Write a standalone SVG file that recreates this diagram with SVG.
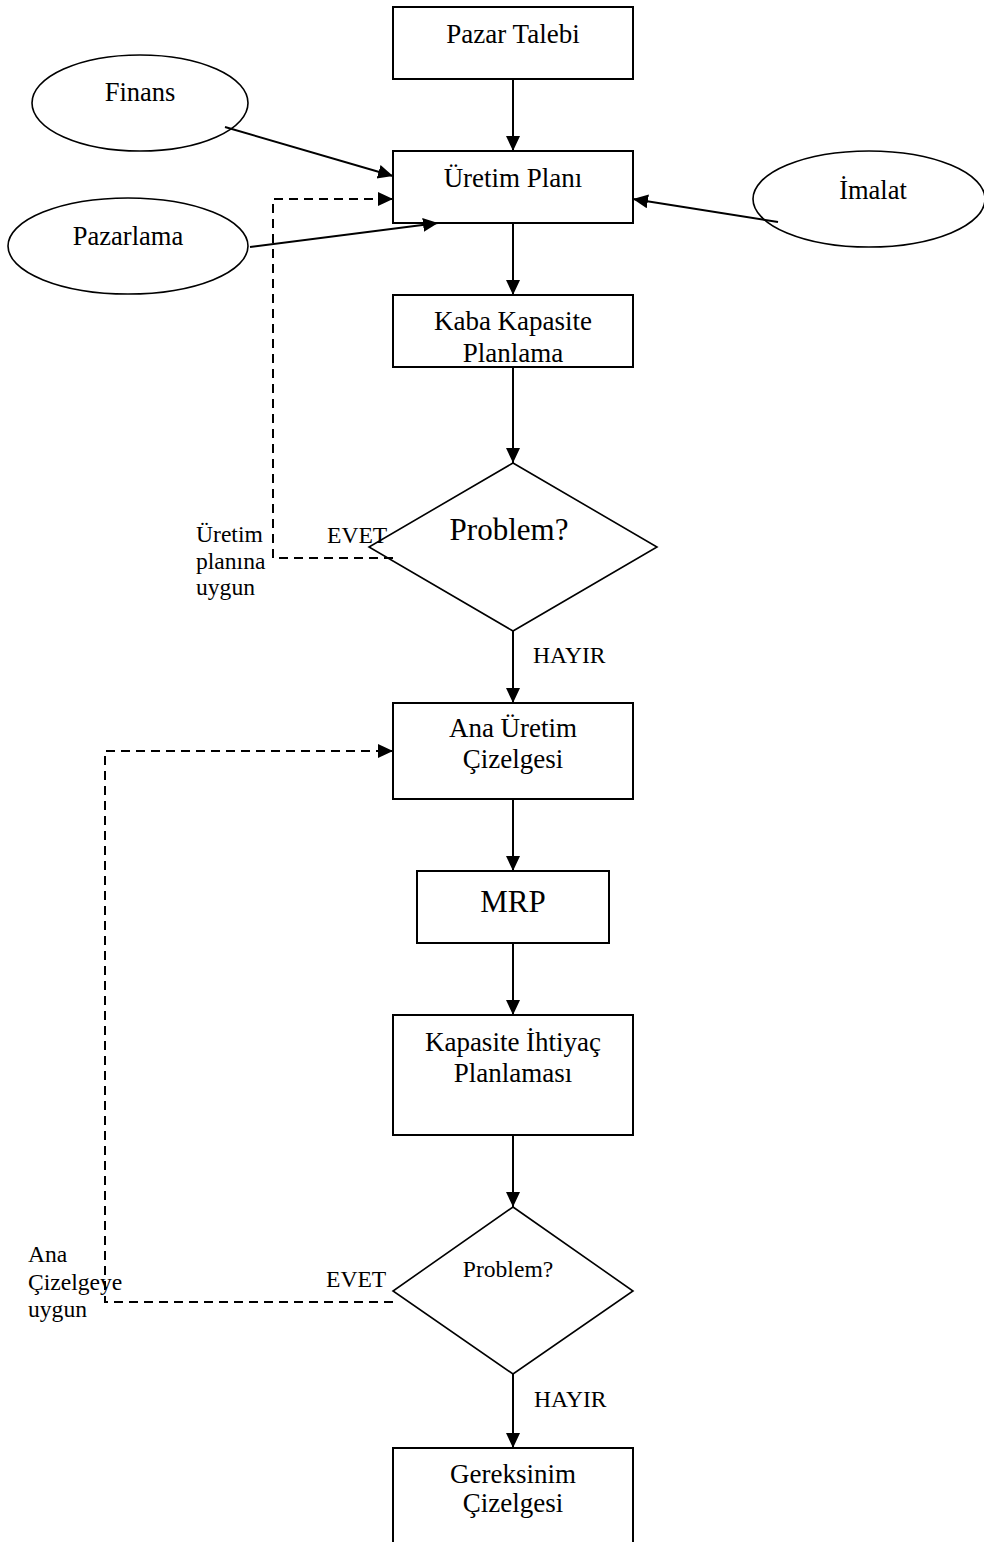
<svg xmlns="http://www.w3.org/2000/svg" width="984" height="1542" viewBox="0 0 984 1542">
  <style>
    .box { fill: #fff; stroke: #000; stroke-width: 2; }
    .oval { fill: #fff; stroke: #000; stroke-width: 1.6; }
    .dia { fill: #fff; stroke: #000; stroke-width: 1.6; }
    .lbl { font-family: "Liberation Serif", "Times New Roman", serif; fill: #000; }
    .t27 { font-size: 27px; text-anchor: middle; }
    .t26 { font-size: 26.5px; text-anchor: middle; }
    .t31 { font-size: 31px; text-anchor: middle; }
    .t24 { font-size: 23.6px; }
    .flow { fill: none; stroke: #000; stroke-width: 2; marker-end: url(#arrow); }
    .feed { fill: none; stroke: #000; stroke-width: 2; stroke-dasharray: 9 6; }
  </style>
  <defs>
    <marker id="arrow" markerUnits="userSpaceOnUse" markerWidth="16" markerHeight="15" refX="15" refY="7" orient="auto">
      <path d="M0,0 L15,7 L0,14 z" fill="#000"/>
    </marker>
  </defs>
  <rect width="984" height="1542" fill="#fff"/>

  <g id="pazar-talebi">
    <rect class="box" x="393" y="7" width="240" height="72"/>
    <text class="lbl t27" x="513" y="43">Pazar Talebi</text>
  </g>

  <g id="finans">
    <ellipse class="oval" cx="140" cy="103" rx="108" ry="48"/>
    <text class="lbl t26" x="140" y="101">Finans</text>
  </g>

  <g id="pazarlama">
    <ellipse class="oval" cx="128" cy="246" rx="120" ry="48"/>
    <text class="lbl t26" x="128" y="245">Pazarlama</text>
  </g>

  <g id="imalat">
    <ellipse class="oval" cx="869" cy="199" rx="116" ry="48"/>
    <text class="lbl t26" x="873" y="199">İmalat</text>
  </g>

  <g id="uretim-plani">
    <rect class="box" x="393" y="151" width="240" height="72"/>
    <text class="lbl t27" x="513" y="187">Üretim Planı</text>
  </g>

  <g id="kaba-kapasite">
    <rect class="box" x="393" y="295" width="240" height="72"/>
    <text class="lbl t27" x="513" y="330">Kaba Kapasite</text>
    <text class="lbl t27" x="513" y="362">Planlama</text>
  </g>

  <g id="problem-1">
    <polygon class="dia" points="513,463 657,547 513,631 369,547"/>
    <text class="lbl t31" x="509" y="540">Problem?</text>
  </g>

  <g id="ana-uretim">
    <rect class="box" x="393" y="703" width="240" height="96"/>
    <text class="lbl t27" x="513" y="737">Ana Üretim</text>
    <text class="lbl t27" x="513" y="768">Çizelgesi</text>
  </g>

  <g id="mrp">
    <rect class="box" x="417" y="871" width="192" height="72"/>
    <text class="lbl t31" x="513" y="912">MRP</text>
  </g>

  <g id="kapasite-ihtiyac">
    <rect class="box" x="393" y="1015" width="240" height="120"/>
    <text class="lbl t27" x="513" y="1051">Kapasite İhtiyaç</text>
    <text class="lbl t27" x="513" y="1082">Planlaması</text>
  </g>

  <g id="problem-2">
    <polygon class="dia" points="513,1207 633,1291 513,1374 393,1291"/>
    <text class="lbl t24" x="508" y="1277" text-anchor="middle">Problem?</text>
  </g>

  <g id="gereksinim">
    <rect class="box" x="393" y="1448" width="240" height="110"/>
    <text class="lbl t27" x="513" y="1483">Gereksinim</text>
    <text class="lbl t27" x="513" y="1512">Çizelgesi</text>
  </g>

  <!-- connectors, drawn over the shapes so line ends show inside them -->
  <g id="connectors">
    <line class="flow" x1="513" y1="79" x2="513" y2="151"/>
    <line class="flow" x1="225" y1="127" x2="393" y2="176"/>
    <line class="flow" x1="250" y1="247" x2="438" y2="223"/>
    <line class="flow" x1="778" y1="222" x2="633" y2="199"/>
    <line class="flow" x1="513" y1="223" x2="513" y2="295"/>
    <line class="flow" x1="513" y1="367" x2="513" y2="463"/>
    <line class="flow" x1="513" y1="631" x2="513" y2="703"/>
    <line class="flow" x1="513" y1="799" x2="513" y2="871"/>
    <line class="flow" x1="513" y1="943" x2="513" y2="1015"/>
    <line class="flow" x1="513" y1="1135" x2="513" y2="1207"/>
    <line class="flow" x1="513" y1="1374" x2="513" y2="1448"/>
    <!-- feedback loops -->
    <polyline class="feed" points="393,558 273,558 273,199 380,199"/>
    <line class="flow" x1="379" y1="199" x2="393" y2="199"/>
    <polyline class="feed" points="393,1302 105,1302 105,751 380,751"/>
    <line class="flow" x1="379" y1="751" x2="393" y2="751"/>
  </g>

  <!-- branch labels -->
  <g id="labels-1">
    <text class="lbl t24" x="327" y="543">EVET</text>
    <text class="lbl t24" x="196" y="542">Üretim</text>
    <text class="lbl t24" x="196" y="569">planına</text>
    <text class="lbl t24" x="196" y="595">uygun</text>
    <text class="lbl t24" x="533" y="663">HAYIR</text>
  </g>

  <g id="labels-2">
    <text class="lbl t24" x="326" y="1287">EVET</text>
    <text class="lbl t24" x="28" y="1262">Ana</text>
    <text class="lbl t24" x="28" y="1290">Çizelgeye</text>
    <text class="lbl t24" x="28" y="1317">uygun</text>
    <text class="lbl t24" x="534" y="1407">HAYIR</text>
  </g>
</svg>
